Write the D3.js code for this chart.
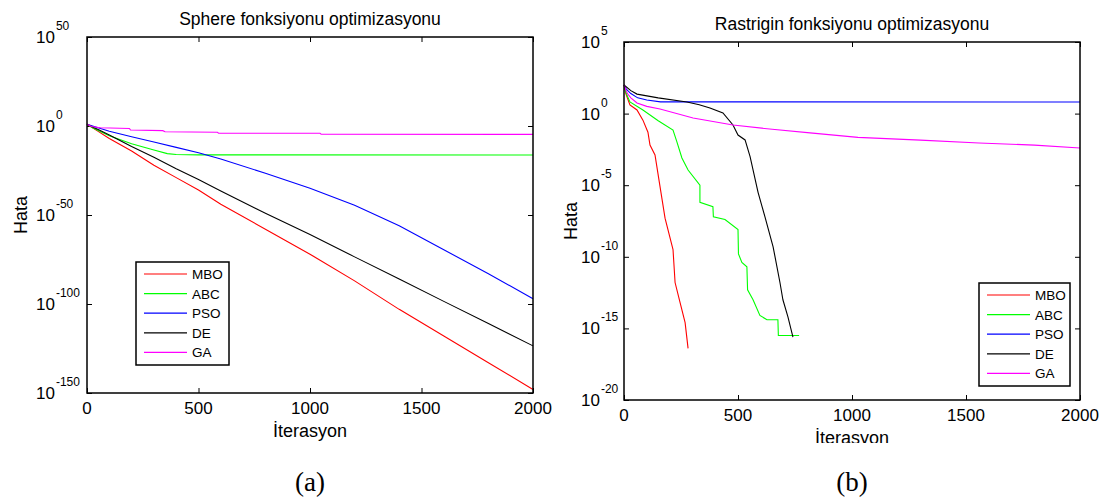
<!DOCTYPE html>
<meta charset="utf-8">
<style>
body { margin: 0; background: #fff; }
text { font-family: "Liberation Sans", Arial, sans-serif; fill: #000; }
.box { fill: none; stroke: #000; stroke-width: 1.5; }
.tick line { stroke: #000; stroke-width: 1; }
.series { fill: none; stroke-width: 1.1; }
.caption { font-family: "Liberation Serif", "Times New Roman", serif; font-size: 27px; }
</style>
<body>
<script src="https://d3js.org/d3.v7.min.js"></script>
<script>

// ---------- data ----------
var algos  = ["MBO", "ABC", "PSO", "DE", "GA"];
var colors = ["#ff0000", "#00ff00", "#0000ff", "#000000", "#ff00ff"];

var xTicks = [0, 500, 1000, 1500, 2000];
var sphereExpTicks = [50, 0, -50, -100, -150];
var rastExpTicks   = [5, 0, -5, -10, -15, -20];

// (a) Sphere
var grid = [0, 25, 50, 100, 200, 300, 400, 500, 600, 800, 1000, 1200, 1400, 1600, 1800, 2000];
var sphMBO = [1e1, 1e-1, 1e-3, 1e-7, 1e-14, 1e-22, 1e-29, 1e-36, 1e-44, 1e-58, 1e-72, 1e-87, 1e-103, 1e-118, 1e-133, 1e-148];
var sphDE  = [1e1, 3e-1, 1e-2, 1e-5, 3e-12, 3e-18, 1e-24, 1e-30, 3e-37, 1e-49, 1e-61, 3e-74, 1e-86, 3e-99, 1e-111, 3e-124];
var sphPSO = [1e1, 1e0, 1e-1, 1e-3, 1e-6, 1e-9, 1e-12, 1e-15, 3e-19, 3e-27, 1e-35, 3e-45, 1e-56, 3e-70, 1e-83, 1e-97];
var sphABC_it = [0, 25, 50, 100, 200, 300, 360, 400, 500, 2000];
var sphABC    = [1e1, 1e-1, 3e-3, 3e-6, 1e-10, 3e-14, 3e-16, 1e-16, 6e-17, 5e-17];
var sphGA_it = [0, 20, 60, 190, 195, 340, 350, 585, 590, 1045, 1050, 2000];
var sphGA    = [1e1, 5e-1, 1e-1, 4e-2, 6e-3, 2.5e-3, 6e-4, 3e-4, 1e-4, 8e-5, 2.5e-5, 2e-5];

// (b) Rastrigin
var rasMBO_it = [0, 8, 26, 57, 83, 105, 114, 136, 158, 180, 215, 224, 246, 268, 281];
var rasMBO    = [100, 25, 4, 1.8, 0.35, 0.05, 6.3e-3, 1.3e-3, 8e-6, 5e-8, 3.2e-10, 1.6e-12, 6.3e-14, 2.5e-15, 4e-17];
var rasABC_it = [0, 10, 26, 83, 150, 215, 232, 254, 281, 333, 333, 390, 392, 443, 500, 502, 517, 539, 542, 566, 596, 627, 675, 677, 768];
var rasABC    = [100, 25, 6.5, 1.8, 0.32, 0.071, 0.0105, 8e-4, 1.15e-4, 1e-5, 6.3e-7, 3.2e-7, 6.3e-8, 4e-8, 8e-9, 1.6e-10, 4e-11, 2e-11, 5e-13, 1e-13, 8e-15, 4e-15, 4e-15, 3.2e-16, 3.2e-16];
var rasPSO_it = [0, 10, 30, 60, 100, 160, 2000];
var rasPSO    = [100, 50, 25, 12.6, 8.9, 6.6, 6.5];
var rasDE_it = [0, 30, 57, 150, 276, 330, 377, 434, 478, 500, 531, 553, 588, 618, 654, 684, 697, 719, 741];
var rasDE    = [100, 40, 23, 12.6, 6.5, 4.2, 2.5, 1.1, 0.16, 0.032, 0.0145, 1e-3, 3.2e-6, 6.3e-8, 5e-10, 1.6e-12, 1e-13, 6.3e-15, 2.5e-16];
var rasGA_it = [0, 15, 30, 57, 100, 158, 303, 478, 650, 816, 1026, 1300, 1557, 1800, 2000];
var rasGA    = [100, 25, 12.6, 5.5, 3.2, 2.1, 0.49, 0.16, 0.08, 0.045, 0.022, 0.014, 0.0089, 0.0063, 0.004];


var svg = d3.select("body").append("svg")
    .attr("width", 1106)
    .attr("height", 502);

svg.append("defs").append("clipPath")
    .attr("id", "cutB")
  .append("rect")
    .attr("x", 560).attr("y", 400)
    .attr("width", 540).attr("height", 43);

function drawPanel(p) {
  var x = d3.scaleLinear().domain([0, 2000]).range([p.left, p.right]);
  var y = d3.scaleLog().domain(p.yDomain).range([p.bottom, p.top]);
  var g = svg.append("g");

  // inward ticks on all four sides
  var sides = [
    [d3.axisBottom(x).tickValues(xTicks), "translate(0," + p.bottom + ")"],
    [d3.axisTop(x).tickValues(xTicks), "translate(0," + p.top + ")"]
  ];
  var yVals = p.expTicks.map(function(e) { return Math.pow(10, e); });
  sides.push([d3.axisLeft(y).tickValues(yVals), "translate(" + p.left + ",0)"]);
  sides.push([d3.axisRight(y).tickValues(yVals), "translate(" + p.right + ",0)"]);
  sides.forEach(function(s) {
    g.append("g").attr("transform", s[1])
      .call(s[0].tickSizeInner(-5).tickSizeOuter(0).tickFormat(""))
      .call(function(a) { a.select(".domain").remove(); });
  });

  // series
  p.series.forEach(function(s, i) {
    var pts = s.it.map(function(d, k) { return [d, s.val[k]]; });
    g.append("path")
      .attr("class", "series")
      .attr("stroke", colors[i])
      .attr("stroke-width", algos[i] === "GA" ? 1.5 : 1.1)
      .attr("d", d3.line().x(function(d) { return x(d[0]); }).y(function(d) { return y(d[1]); })(pts));
  });

  g.append("rect").attr("class", "box")
    .attr("x", p.left).attr("y", p.top)
    .attr("width", p.right - p.left).attr("height", p.bottom - p.top);

  // x tick labels
  g.selectAll(".xl").data(xTicks).enter().append("text")
    .attr("x", function(d) { return x(d); })
    .attr("y", p.bottom + 21)
    .attr("text-anchor", "middle")
    .style("font-size", "17px")
    .text(function(d) { return d; });

  // y tick labels 10^e
  p.expTicks.forEach(function(e) {
    var t = g.append("text")
      .attr("x", p.labelX)
      .attr("y", y(Math.pow(10, e)) + 6)
      .style("font-size", "17px");
    t.append("tspan").text("10");
    t.append("tspan").attr("dx", 1).attr("dy", -13).style("font-size", "12px").text(e);
  });

  g.append("text")
    .attr("x", (p.left + p.right) / 2).attr("y", p.top - 12)
    .attr("text-anchor", "middle").style("font-size", "17.5px")
    .text(p.title);

  g.append("text")
    .attr("x", (p.left + p.right) / 2).attr("y", p.bottom + 44)
    .attr("text-anchor", "middle").style("font-size", "18px")
    .attr("clip-path", p.clip ? "url(#" + p.clip + ")" : null)
    .text("İterasyon");

  g.append("text")
    .attr("transform", "translate(" + p.hataX + "," + (p.top + p.bottom) / 2 + ") rotate(-90)")
    .attr("text-anchor", "middle").style("font-size", "18px")
    .text("Hata");

  g.append("text").attr("class", "caption")
    .attr("x", (p.left + p.right) / 2).attr("y", 491)
    .attr("text-anchor", "middle")
    .text(p.caption);

  // legend
  var lg = g.append("g").attr("transform", "translate(" + p.legX + "," + p.legY + ")");
  lg.append("rect").attr("class", "box")
    .attr("width", p.legW).attr("height", 103).style("fill", "#fff");
  algos.forEach(function(a, i) {
    var yy = 12 + i * 19.6;
    lg.append("line")
      .attr("x1", 8).attr("x2", 51).attr("y1", yy).attr("y2", yy)
      .attr("stroke", colors[i]).attr("stroke-width", 1.2);
    lg.append("text")
      .attr("x", 56).attr("y", yy + 5)
      .style("font-size", "13.5px")
      .text(a);
  });
}

drawPanel({
  left: 87, right: 533, top: 37, bottom: 393,
  yDomain: [1e-150, 1e50], expTicks: sphereExpTicks,
  labelX: 36, hataX: 27,
  legX: 136, legY: 262, legW: 93,
  title: "Sphere fonksiyonu optimizasyonu", caption: "(a)",
  series: [
    {it: grid, val: sphMBO},
    {it: sphABC_it, val: sphABC},
    {it: grid, val: sphPSO},
    {it: grid, val: sphDE},
    {it: sphGA_it, val: sphGA}
  ]
});

drawPanel({
  left: 624, right: 1080, top: 42, bottom: 400,
  yDomain: [1e-20, 1e5], expTicks: rastExpTicks,
  labelX: 581, hataX: 577,
  legX: 979, legY: 283, legW: 91,
  title: "Rastrigin fonksiyonu optimizasyonu", caption: "(b)", clip: "cutB",
  series: [
    {it: rasMBO_it, val: rasMBO},
    {it: rasABC_it, val: rasABC},
    {it: rasPSO_it, val: rasPSO},
    {it: rasDE_it, val: rasDE},
    {it: rasGA_it, val: rasGA}
  ]
});

</script>
